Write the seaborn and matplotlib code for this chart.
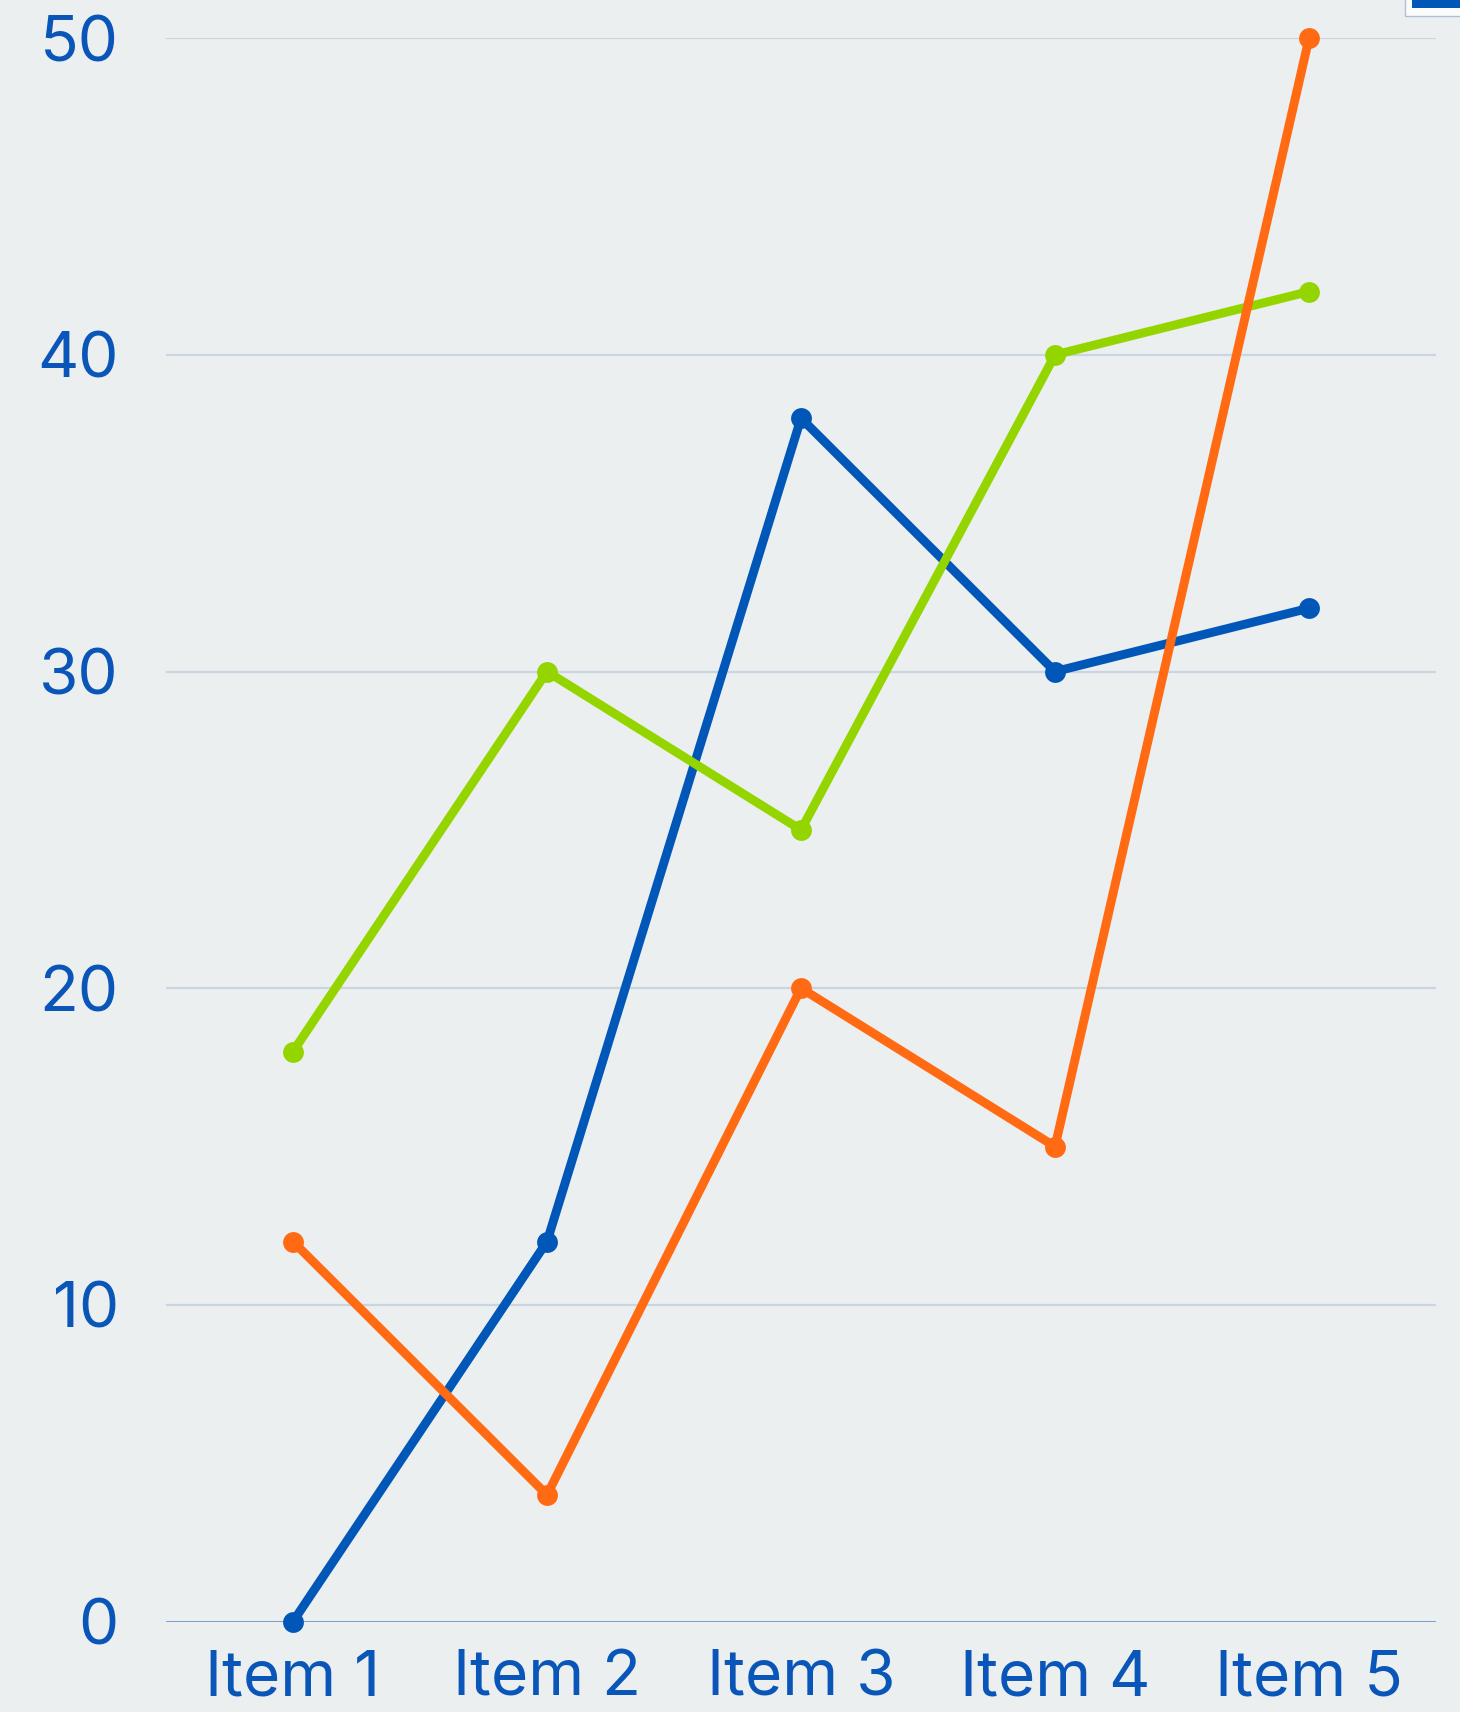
import matplotlib
matplotlib.use("Agg")
import matplotlib.pyplot as plt
import seaborn as sns
import pandas as pd
from matplotlib.patches import Patch

# Data
items = ["Item 1", "Item 2", "Item 3", "Item 4", "Item 5"]
series_names = ["Series 1", "Series 2", "Series 3"]
series_1 = [0, 12, 38, 30, 32]
series_2 = [18, 30, 25, 40, 42]
series_3 = [12, 4, 20, 15, 50]
y_ticks = [0, 10, 20, 30, 40, 50]

colors = ["#0057b8", "#94d500", "#ff6a13"]
bg = "#eceff0"
text_color = "#0a56b8"

df = pd.DataFrame({
    "item": items * 3,
    "value": series_1 + series_2 + series_3,
    "series": [series_names[0]] * 5 + [series_names[1]] * 5 + [series_names[2]] * 5,
})

sns.set_theme(style="white")
plt.rcParams["font.family"] = ["Inter", "DejaVu Sans"]

fig = plt.figure(figsize=(14.6, 17.12), dpi=100, facecolor=bg)
ax = fig.add_axes([0.1137, 0.0528, 0.8699, 0.9249])
ax.set_facecolor(bg)

ax.set_ylim(0, 50)
ax.set_xlim(-0.5, 4.5)
ax.set_yticks(y_ticks)
for t in y_ticks[1:]:
    ax.axhline(t, color="#c9d6e1", lw=1.6, zorder=0)
ax.axhline(0, color="#6f96c9", lw=2.0, zorder=0)

sns.lineplot(data=df, x="item", y="value", hue="series", palette=colors,
             marker="o", markersize=15, markeredgewidth=0, linewidth=6.4,
             legend=False, ax=ax, zorder=3, clip_on=False)

for s in ax.spines.values():
    s.set_visible(False)
ax.tick_params(axis="both", length=0, labelsize=46, labelcolor=text_color)
ax.tick_params(axis="y", pad=34)
ax.tick_params(axis="x", pad=20)
ax.set_xlabel("")
ax.set_ylabel("")

# Legend swatch box at the top-right edge of the canvas
handles = [Patch(facecolor=c, edgecolor="none") for c in colors[::-1]]
fig.legend(handles, [""] * 3, loc="lower left",
           bbox_to_anchor=(1405 / 1460, 1 - 16 / 1712),
           frameon=True, facecolor="white", edgecolor="#9fb3c8",
           fancybox=False, fontsize=12, borderpad=0.4, borderaxespad=0,
           handlelength=5, handleheight=1.0, labelspacing=0.3)

fig.savefig("out.png", dpi=100, facecolor=bg)
